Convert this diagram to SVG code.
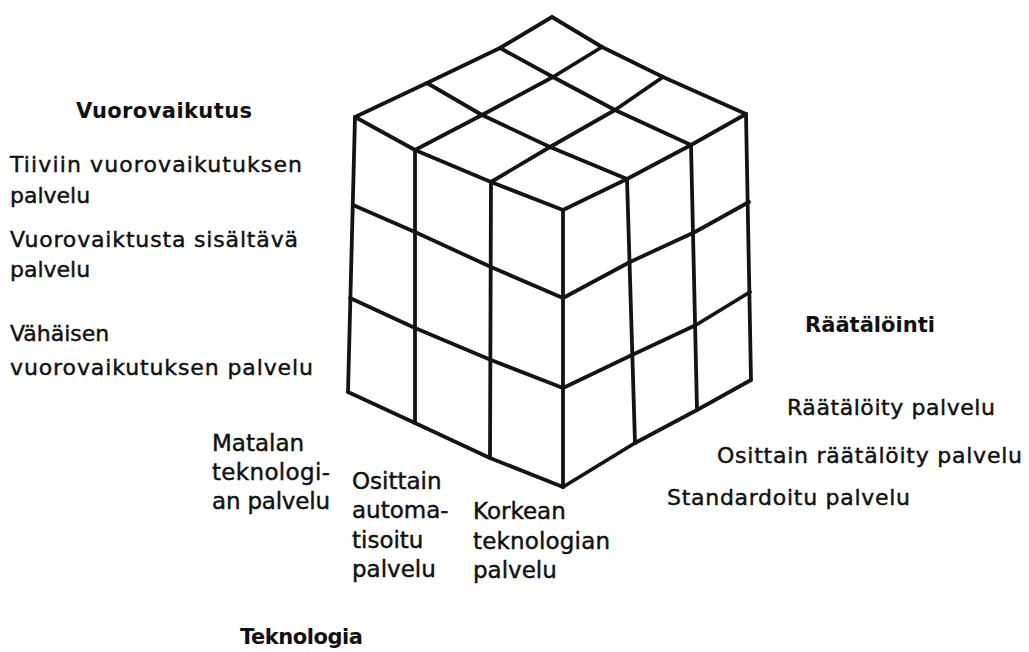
<svg xmlns="http://www.w3.org/2000/svg" width="1029" height="652" viewBox="0 0 1029 652">
<style>
.ln{fill:none;stroke:#141414;stroke-width:3.8;stroke-linejoin:round;stroke-linecap:round}
text{font-family:"DejaVu Sans","Liberation Sans",sans-serif;fill:#111;font-size:22px;stroke:#111;stroke-width:0.45}
.b{font-weight:bold;font-size:21px;stroke-width:0}
.m{font-size:23px}
</style>
<rect width="1029" height="652" fill="#fff"/>
<g id="cube">
<g id="top-face">
<polyline class="ln" points="552,17 602,47 663,77 746,114"/>
<polyline class="ln" points="500,48 553,77 615,110 691,145"/>
<polyline class="ln" points="427,83 482,115 550,147 627,179"/>
<polyline class="ln" points="355,117 415,150 491,182 563,210"/>
<polyline class="ln" points="552,17 500,48 427,83 355,117"/>
<polyline class="ln" points="602,47 553,77 482,115 415,150"/>
<polyline class="ln" points="663,77 615,110 550,147 491,182"/>
<polyline class="ln" points="746,114 691,145 627,179 563,210"/>
</g>
<g id="left-face">
<polyline class="ln" points="355,117 348,392"/>
<polyline class="ln" points="415,150 415,423"/>
<polyline class="ln" points="491,182 490,458"/>
<polyline class="ln" points="563,210 563,487"/>
<polyline class="ln" points="353,205 415,232 491,267 563,298"/>
<polyline class="ln" points="350,298 415,328 491,360 563,388"/>
<polyline class="ln" points="348,392 415,423 490,458 563,487"/>
</g>
<g id="right-face">
<polyline class="ln" points="627,179 635,443"/>
<polyline class="ln" points="691,145 697,410"/>
<polyline class="ln" points="746,114 751,380"/>
<polyline class="ln" points="563,298 630,262 695,232 749,202"/>
<polyline class="ln" points="563,388 632,355 696,325 750,292"/>
<polyline class="ln" points="563,487 635,443 697,410 751,380"/>
</g>
</g>
<g id="vuorovaikutus">
<text class="b" x="76" y="118" textLength="176">Vuorovaikutus</text>
<text x="10" y="172" textLength="292">Tiiviin vuorovaikutuksen</text>
<text x="10" y="203">palvelu</text>
<text x="10" y="247" textLength="288">Vuorovaiktusta sisältävä</text>
<text x="10" y="277">palvelu</text>
<text x="10" y="341">Vähäisen</text>
<text x="10" y="375" textLength="303">vuorovaikutuksen palvelu</text>
</g>
<g id="raatalointi">
<text class="b" x="805" y="332" textLength="130">Räätälöinti</text>
<text x="787" y="415" textLength="208">Räätälöity palvelu</text>
<text x="717" y="463" textLength="305">Osittain räätälöity palvelu</text>
<text x="667" y="505" textLength="243">Standardoitu palvelu</text>
</g>
<g id="teknologia">
<text class="m" x="212" y="451">Matalan</text>
<text class="m" x="212" y="480" textLength="118">teknologi-</text>
<text class="m" x="212" y="509" textLength="118">an palvelu</text>
<text class="m" x="352" y="489">Osittain</text>
<text class="m" x="352" y="518">automa-</text>
<text class="m" x="352" y="548">tisoitu</text>
<text class="m" x="352" y="577">palvelu</text>
<text class="m" x="473" y="519">Korkean</text>
<text class="m" x="473" y="549" textLength="137">teknologian</text>
<text class="m" x="473" y="578">palvelu</text>
<text class="b" x="240" y="644" textLength="123">Teknologia</text>
</g>
</svg>
